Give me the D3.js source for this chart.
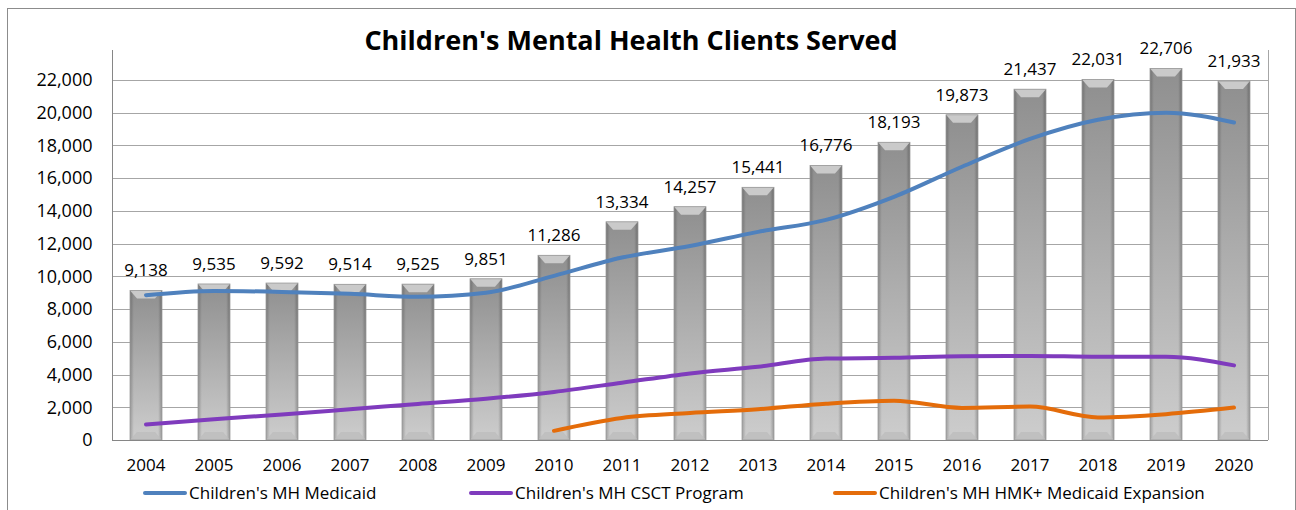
<!DOCTYPE html>
<html lang="en">
  <head>
    <meta charset="UTF-8"/>
    <title>Children's Mental Health Clients Served</title>
    <script src="https://d3js.org/d3.v7.min.js"></script>
    <style>
        body {
          margin: 0;
          background: #fff;
          font-family: "Open Sans", sans-serif;
        }
        .grid line {
          stroke: #a6a6a6;
          shape-rendering: crispEdges;
        }
        .axis text,
        .label {
          font-family: "Open Sans", sans-serif;
          font-size: 17px;
          fill: #000;
        }
        .axis text {
          font-size: 18px;
        }
        .axis path,
        .axis line {
          stroke: #868686;
          shape-rendering: crispEdges;
        }
    </style>
  </head>
  <body>
    <script>
        // data
        const years = ["2004", "2005", "2006", "2007", "2008", "2009", "2010", "2011", "2012",
                       "2013", "2014", "2015", "2016", "2017", "2018", "2019", "2020"]
        const totalServed = [9138, 9535, 9592, 9514, 9525, 9851, 11286, 13334, 14257,
                             15441, 16776, 18193, 19873, 21437, 22031, 22706, 21933]
        const medicaid = [8850, 9110, 9050, 8930, 8750, 9000, 10030, 11150, 11860,
                          12720, 13450, 14860, 16700, 18400, 19570, 20000, 19400]
        const csct = [950, 1270, 1560, 1880, 2200, 2520, 2940, 3500, 4070,
                      4480, 4980, 5020, 5120, 5140, 5090, 5090, 4560]
        const hmk = [null, null, null, null, null, null, 560, 1350, 1650,
                     1880, 2220, 2400, 1960, 2040, 1380, 1580, 1980]
        const yTicks = [0, 2000, 4000, 6000, 8000, 10000, 12000, 14000, 16000, 18000, 20000, 22000]

        const series = [
          {name: "Children's MH Medicaid", values: medicaid, color: "#4f81bd"},
          {name: "Children's MH CSCT Program", values: csct, color: "#7f3bbd"},
          {name: "Children's MH HMK+ Medicaid Expansion", values: hmk, color: "#e46c0a"}
        ]

        const width = 1296, height = 510
        const plot = {left: 112, right: 1268, top: 50, bottom: 440}

        const svg = d3.select("body").append("svg")
            .attr("width", width)
            .attr("height", height)

        // outer chart border
        svg.append("rect")
            .attr("x", 7.5).attr("y", 8.5)
            .attr("width", 1288).attr("height", 520)
            .attr("fill", "#fff")
            .attr("stroke", "#8c8c8c")

        const x = d3.scaleBand()
            .domain(years)
            .range([plot.left, plot.right])
            .paddingInner(0.53)
            .paddingOuter(0.265)

        const y = d3.scaleLinear()
            .domain([0, 23833])
            .range([plot.bottom, plot.top])

        // gradients for the bevelled bars
        const defs = svg.append("defs")
        const vg = defs.append("linearGradient").attr("id", "barV")
            .attr("x1", 0).attr("y1", 0).attr("x2", 0).attr("y2", 1)
        vg.append("stop").attr("offset", "0%").attr("stop-color", "#8f8f8f")
        vg.append("stop").attr("offset", "100%").attr("stop-color", "#cdcdcd")
        const hg = defs.append("linearGradient").attr("id", "barH")
            .attr("x1", 0).attr("y1", 0).attr("x2", 1).attr("y2", 0)
        hg.append("stop").attr("offset", "0%").attr("stop-color", "#000").attr("stop-opacity", 0.22)
        hg.append("stop").attr("offset", "12%").attr("stop-color", "#000").attr("stop-opacity", 0)
        hg.append("stop").attr("offset", "88%").attr("stop-color", "#000").attr("stop-opacity", 0)
        hg.append("stop").attr("offset", "100%").attr("stop-color", "#000").attr("stop-opacity", 0.25)

        // horizontal gridlines
        svg.append("g")
            .attr("class", "grid")
          .selectAll("line")
          .data(yTicks.filter(d => d > 0))
          .join("line")
            .attr("x1", plot.left).attr("x2", plot.right)
            .attr("y1", d => Math.round(y(d)) + 0.5)
            .attr("y2", d => Math.round(y(d)) + 0.5)

        // right wall line
        svg.append("line")
            .attr("x1", plot.right + 0.5).attr("x2", plot.right + 0.5)
            .attr("y1", plot.top).attr("y2", plot.bottom)
            .attr("stroke", "#a6a6a6")

        // y axis
        const yAxis = d3.axisLeft(y)
            .tickValues(yTicks)
            .tickSize(0)
            .tickPadding(20)
            .tickFormat(d3.format(","))
        const gy = svg.append("g")
            .attr("class", "axis")
            .attr("transform", `translate(${plot.left + 0.5},0)`)
            .call(yAxis)
        gy.select(".domain").attr("d", `M0,${plot.top}V${plot.bottom + 0.5}`)

        // bars
        const bars = svg.append("g").selectAll("g")
          .data(years)
          .join("g")
            .attr("transform", (d, i) => `translate(${x(d)},${y(totalServed[i])})`)
        const bw = x.bandwidth()
        const bh = (d, i) => plot.bottom - y(totalServed[i])
        bars.append("rect")
            .attr("width", bw).attr("height", bh)
            .attr("fill", "url(#barV)")
        bars.append("rect")
            .attr("width", bw).attr("height", bh)
            .attr("fill", "url(#barH)")
        // top bevel
        bars.append("path")
            .attr("d", `M0,0H${bw}L${bw - 7},8H7Z`)
            .attr("fill", "#d8d8d8").attr("opacity", 0.8)
        // bottom bevel
        bars.append("path")
            .attr("d", (d, i) => { const h = bh(d, i); return `M0,${h}H${bw}L${bw - 7},${h - 8}H7Z` })
            .attr("fill", "#bdbdbd").attr("opacity", 0.8)
        bars.append("rect")
            .attr("width", bw).attr("height", bh)
            .attr("fill", "none").attr("stroke", "#999").attr("stroke-width", 0.8)

        // x axis line
        svg.append("line")
            .attr("x1", plot.left).attr("x2", plot.right)
            .attr("y1", plot.bottom + 0.5).attr("y2", plot.bottom + 0.5)
            .attr("stroke", "#868686")

        // year labels
        svg.append("g").selectAll("text")
          .data(years)
          .join("text")
            .attr("class", "label")
            .attr("x", d => x(d) + bw / 2)
            .attr("y", 471)
            .attr("text-anchor", "middle")
            .text(d => d)

        // value labels
        svg.append("g").selectAll("text")
          .data(years)
          .join("text")
            .attr("class", "label")
            .attr("x", d => x(d) + bw / 2)
            .attr("y", (d, i) => y(totalServed[i]) - 14)
            .attr("text-anchor", "middle")
            .text((d, i) => d3.format(",")(totalServed[i]))

        // smoothed lines
        const line = d3.line()
            .x(d => x(d.year) + bw / 2)
            .y(d => y(d.v))
            .curve(d3.curveMonotoneX)
        svg.append("g").selectAll("path")
          .data(series)
          .join("path")
            .attr("d", s => line(years.map((yr, i) => ({year: yr, v: s.values[i]})).filter(p => p.v != null)))
            .attr("fill", "none")
            .attr("stroke", s => s.color)
            .attr("stroke-width", 4)
            .attr("stroke-linecap", "round")

        // title
        svg.append("text")
            .attr("x", 631).attr("y", 50)
            .attr("text-anchor", "middle")
            .attr("font-size", 27)
            .attr("font-weight", "bold")
            .text("Children's Mental Health Clients Served")

        // legend
        const legendX = [145, 471, 835]
        const legend = svg.append("g").selectAll("g")
          .data(series)
          .join("g")
            .attr("transform", (d, i) => `translate(${legendX[i]},493)`)
        legend.append("line")
            .attr("x1", 0).attr("x2", 40)
            .attr("stroke", d => d.color)
            .attr("stroke-width", 4)
            .attr("stroke-linecap", "round")
        legend.append("text")
            .attr("class", "label")
            .attr("x", 44).attr("y", 6)
            .text(d => d.name)
    </script>
  </body>
</html>
